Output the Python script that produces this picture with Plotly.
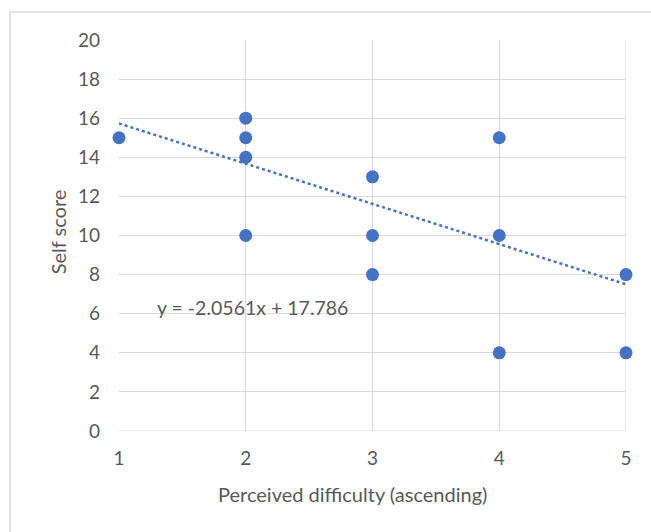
import plotly.graph_objects as go

# Survey responses: perceived difficulty vs. self-assessed score
difficulty = [1, 2, 2, 2, 2, 3, 3, 3, 4, 4, 4, 5, 5]
self_score = [15, 16, 15, 14, 10, 13, 10, 8, 15, 10, 4, 8, 4]

# Linear trendline coefficients
slope = -2.0561
intercept = 17.786

x_ticks = [1, 2, 3, 4, 5]
y_ticks = list(range(0, 21, 2))

blue = "#4472C4"
grid = "#D9D9D9"
text_col = "#595959"
font_family = "Lato, Open Sans, sans-serif"

trend_x = [min(x_ticks), max(x_ticks)]
trend_y = [slope * v + intercept for v in trend_x]

fig = go.Figure()
fig.add_trace(go.Scatter(
    x=trend_x, y=trend_y, mode="lines",
    line=dict(color=blue, width=2.5, dash="dot"),
    hoverinfo="skip", showlegend=False,
))
fig.add_trace(go.Scatter(
    x=difficulty, y=self_score, mode="markers",
    marker=dict(color=blue, size=13, line=dict(width=0)),
    cliponaxis=False, showlegend=False,
))

eq_text = f"y = {slope}x + {intercept}"

fig.update_layout(
    width=651, height=532,
    margin=dict(l=119, r=25, t=40, b=101),
    paper_bgcolor="white", plot_bgcolor="white",
    font=dict(family=font_family, color=text_col, size=19),
    xaxis=dict(
        range=[1, 5], tickvals=x_ticks, showgrid=True, gridcolor=grid,
        gridwidth=1, zeroline=False, showline=False, ticks="",
        ticklabelstandoff=14, tickfont=dict(size=19, color=text_col),
    ),
    yaxis=dict(
        range=[0, 20], tickvals=y_ticks, showgrid=True, gridcolor=grid,
        gridwidth=1, zeroline=False, showline=False, ticks="",
        ticklabelstandoff=18, tickfont=dict(size=19, color=text_col),
    ),
    annotations=[
        dict(text=eq_text, x=1.284, y=6.34, xref="x", yref="y",
             xanchor="left", yanchor="middle", showarrow=False,
             font=dict(size=19.5, color=text_col)),
        dict(text="Perceived difficulty (ascending)", x=0.4615, y=-0.162,
             xref="paper", yref="paper", xanchor="center", yanchor="middle",
             showarrow=False, font=dict(size=20, color=text_col)),
        dict(text="Self score", x=-0.121, y=0.51, xref="paper", yref="paper",
             xanchor="center", yanchor="middle", textangle=-90,
             showarrow=False, font=dict(size=20, color=text_col)),
    ],
    shapes=[
        # Plot area right and bottom edges
        dict(type="line", xref="x", yref="paper", x0=5, x1=5, y0=0, y1=1,
             line=dict(color=grid, width=1), layer="below"),
        dict(type="line", xref="paper", yref="y", x0=0, x1=1, y0=0, y1=0,
             line=dict(color=grid, width=1), layer="below"),
        # Chart frame
        dict(type="rect", xref="paper", yref="paper",
             x0=-0.215, x1=1.2, y0=-0.3, y1=1.0716,
             line=dict(color=grid, width=1.5), layer="below"),
    ],
)

fig.write_html("out.html")
